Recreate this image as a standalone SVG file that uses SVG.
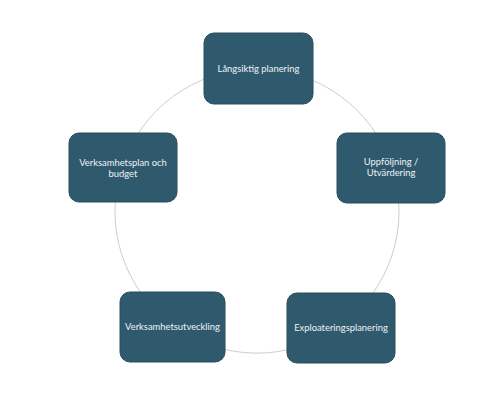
<svg xmlns="http://www.w3.org/2000/svg" width="480" height="417" viewBox="0 0 480 417">
<style>
.box{fill:#2f5a6e;stroke:#284d5f;stroke-width:1}
.lbl{font-family:Lato,"Liberation Sans",sans-serif;font-size:9.4px;fill:#eef2f4;text-anchor:middle}
.arc{fill:none;stroke:#b9c2cc;stroke-width:0.8}
</style>
<rect width="480" height="417" fill="#ffffff"/>
<g id="connectors">
<path class="arc" d="M257 69 A142 142 0 0 1 392 167"/>
<path class="arc" d="M392 167 A142 142 0 0 1 340.5 326"/>
<path class="arc" d="M340.5 326 A142 142 0 0 1 173.5 326"/>
<path class="arc" d="M173.5 326 A142 142 0 0 1 122 167"/>
<path class="arc" d="M122 167 A142 142 0 0 1 257 69"/>
</g>
<g id="n1"><rect class="box" x="204" y="33" width="109" height="71" rx="10"/><text class="lbl" x="258.5" y="72">Långsiktig planering</text></g>
<g id="n2"><rect class="box" x="337" y="133" width="108" height="70" rx="10"/><text class="lbl" x="391" y="165">Uppföljning /</text><text class="lbl" x="391" y="176">Utvärdering</text></g>
<g id="n3"><rect class="box" x="287" y="293" width="108" height="70" rx="10"/><text class="lbl" x="341" y="331">Exploateringsplanering</text></g>
<g id="n4"><rect class="box" x="120" y="292" width="105" height="70" rx="10"/><text class="lbl" x="172.5" y="330">Verksamhetsutveckling</text></g>
<g id="n5"><rect class="box" x="69" y="133" width="108" height="69" rx="10"/><text class="lbl" x="123" y="166">Verksamhetsplan och</text><text class="lbl" x="123" y="177">budget</text></g>
</svg>
